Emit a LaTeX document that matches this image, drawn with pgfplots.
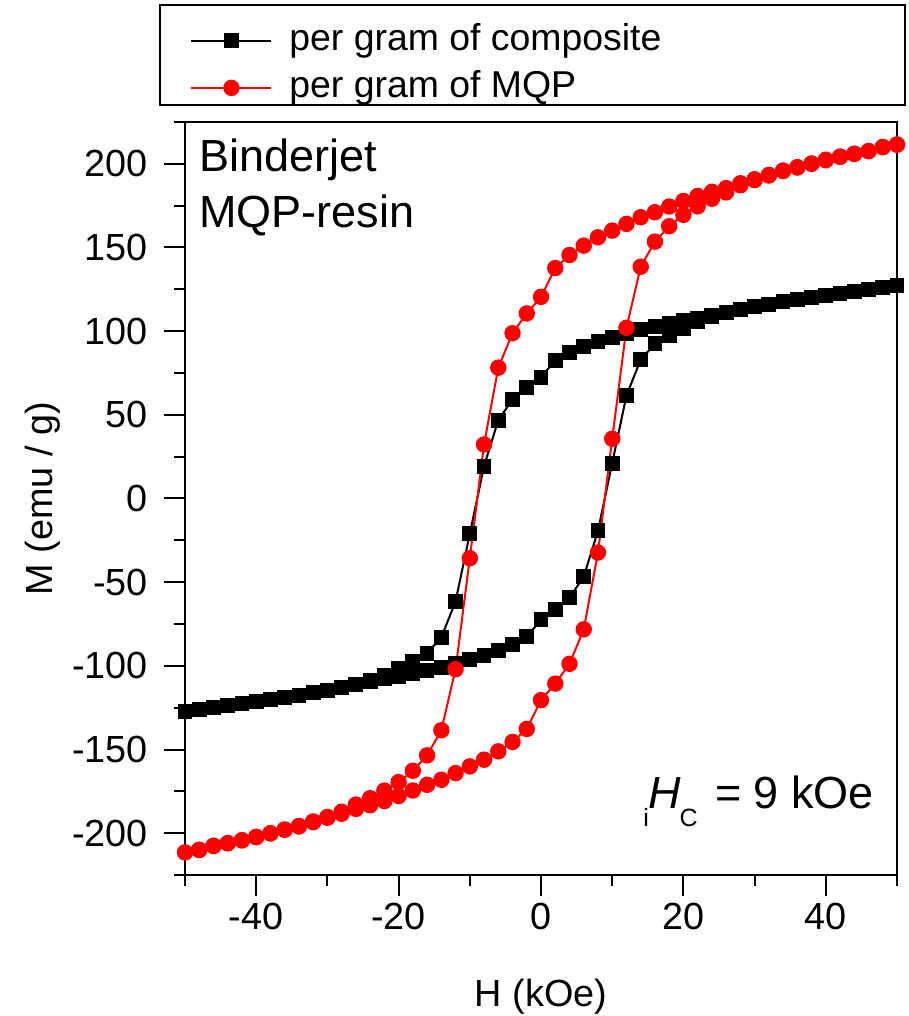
\documentclass[border=0pt]{standalone}
\usepackage{fontspec}
\setmainfont{Liberation Sans}
\usepackage{pgfplots}
\pgfplotsset{compat=1.18}
\usepackage{pgfplotstable}

\pgfplotstableread{
x y
50 127.1
48 126.0
46 124.8
44 123.7
42 122.6
40 121.5
38 120.2
36 119.0
34 117.6
32 116.1
30 114.6
28 113.0
26 111.2
24 109.4
22 107.7
20 106.5
18 104.7
16 102.9
14 101.0
12 98.8
10 96.4
8 93.7
6 90.6
4 87.2
2 82.6
0 72.5
-2 66.3
-4 59.3
-6 46.7
-8 19.3
-10 -21.1
-12 -61.5
-14 -83.0
-16 -92.4
-18 -97.6
-20 -101.5
-22 -105.5
-24 -108.7
-26 -110.9
-28 -112.8
-30 -114.5
-32 -116.0
-34 -117.5
-36 -118.8
-38 -120.1
-40 -121.4
-42 -122.5
-44 -123.6
-46 -124.8
-48 -126.0
-50 -127.1
-48 -126.0
-46 -124.8
-44 -123.7
-42 -122.6
-40 -121.5
-38 -120.2
-36 -119.0
-34 -117.6
-32 -116.1
-30 -114.6
-28 -113.0
-26 -111.2
-24 -109.4
-22 -107.7
-20 -106.5
-18 -104.7
-16 -102.9
-14 -101.0
-12 -98.8
-10 -96.4
-8 -93.7
-6 -90.6
-4 -87.2
-2 -82.6
0 -72.5
2 -66.3
4 -59.3
6 -46.7
8 -19.3
10 21.1
12 61.5
14 83.0
16 92.4
18 97.6
20 101.5
22 105.5
24 108.7
26 110.9
28 112.8
30 114.5
32 116.0
34 117.5
36 118.8
38 120.1
40 121.4
42 122.5
44 123.6
46 124.8
48 126.0
50 127.1
}\comp

\pgfplotstableread{
x y
50 211.5
48 210.0
46 207.6
44 206.0
42 204.3
40 202.4
38 200.2
36 198.0
34 196.0
32 193.4
30 190.8
28 188.4
26 185.5
24 183.3
22 180.8
20 177.8
18 174.5
16 171.1
14 168.1
12 164.1
10 160.1
8 156.1
6 151.1
4 145.5
2 137.7
0 120.5
-2 110.6
-4 98.8
-6 78.2
-8 32.3
-10 -35.7
-12 -102.0
-14 -138.5
-16 -153.5
-18 -162.7
-20 -169.5
-22 -174.6
-24 -179.1
-26 -182.9
-28 -187.2
-30 -190.3
-32 -193.0
-34 -195.7
-36 -197.8
-38 -200.0
-40 -202.2
-42 -204.2
-44 -206.0
-46 -207.6
-48 -210.0
-50 -211.5
-48 -210.0
-46 -207.6
-44 -206.0
-42 -204.3
-40 -202.4
-38 -200.2
-36 -198.0
-34 -196.0
-32 -193.4
-30 -190.8
-28 -188.4
-26 -185.5
-24 -183.3
-22 -180.8
-20 -177.8
-18 -174.5
-16 -171.1
-14 -168.1
-12 -164.1
-10 -160.1
-8 -156.1
-6 -151.1
-4 -145.5
-2 -137.7
0 -120.5
2 -110.6
4 -98.8
6 -78.2
8 -32.3
10 35.7
12 102.0
14 138.5
16 153.5
18 162.7
20 169.5
22 174.6
24 179.1
26 182.9
28 187.2
30 190.3
32 193.0
34 195.7
36 197.8
38 200.0
40 202.2
42 204.2
44 206.0
46 207.6
48 210.0
50 211.5
}\mqp

\begin{document}
\begin{tikzpicture}
\path[use as bounding box] (-92.5pt,-70.5pt) rectangle (362pt,437.5pt);
\begin{axis}[
  at={(0,0)}, anchor=south west,
  scale only axis, width=356pt, height=376.5pt,
  xmin=-50, xmax=50, ymin=-225, ymax=225,
  xtick={-40,-20,0,20,40}, minor xtick={-50,-30,-10,10,30,50},
  ytick={-200,-150,...,200}, minor ytick={-225,-175,...,225},
  tick pos=left, tick align=outside,
  major tick length=10.5pt, minor tick length=5.5pt,
  every tick/.style={black, line width=1pt},
  axis line style={line width=1pt},
  tick label style={font=\fontsize{18.9}{22}\selectfont},
  yticklabel style={xshift=-4.5pt},
  /pgf/number format/assume math mode=true,
  xlabel={H (kOe)}, ylabel={M (emu / g)},
  every axis x label/.style={at={(axis description cs:0.5,-0.174)}, anchor=base, inner sep=0pt, font=\fontsize{18.9}{22}\selectfont},
  every axis y label/.style={at={(axis description cs:-0.1854,0.5)}, rotate=90, anchor=base, inner sep=0pt, font=\fontsize{18.9}{22}\selectfont},
  legend image code/.code={\draw[mark repeat=2,mark phase=2] plot coordinates {(0pt,0pt) (20pt,0pt) (40pt,0pt)};},
  legend cell align=left,
  legend style={draw=none, fill=none, at={(axis description cs:0.00702,1.1315)}, anchor=north west,
    inner sep=0pt, row sep=6pt,
    nodes={inner sep=0pt, text height=13.5pt, text depth=4pt, font=\fontsize{18.7}{22}\selectfont},
    /tikz/every odd column/.append style={column sep=8.5pt}},
]
\addplot[black, line width=1pt, mark=square*, mark size=3.2pt, mark options={solid}] table {\comp};
\addlegendentry{per gram of composite}
\addplot[red, line width=1pt, mark=*, mark size=3.6pt, mark options={solid}] table {\mqp};
\addlegendentry{per gram of MQP}
\end{axis}
\draw[line width=1pt] (-12.5pt,385pt) rectangle (360pt,435pt);
\node[anchor=base west, inner sep=0pt, font=\fontsize{22.5}{27}\selectfont] at (7pt,351.5pt) {Binderjet};
\node[anchor=base west, inner sep=0pt, font=\fontsize{22.5}{27}\selectfont] at (7pt,323.5pt) {MQP-resin};
\node[anchor=base west, inner sep=0pt, font=\fontsize{22.5}{27}\selectfont] at (229pt,33pt) {\raisebox{-9pt}{\fontsize{12.5}{15}\selectfont i}\textit{H}\kern-0.9pt\raisebox{-9pt}{\fontsize{12.5}{15}\selectfont C}\kern8.7pt= 9 kOe};
\end{tikzpicture}
\end{document}
